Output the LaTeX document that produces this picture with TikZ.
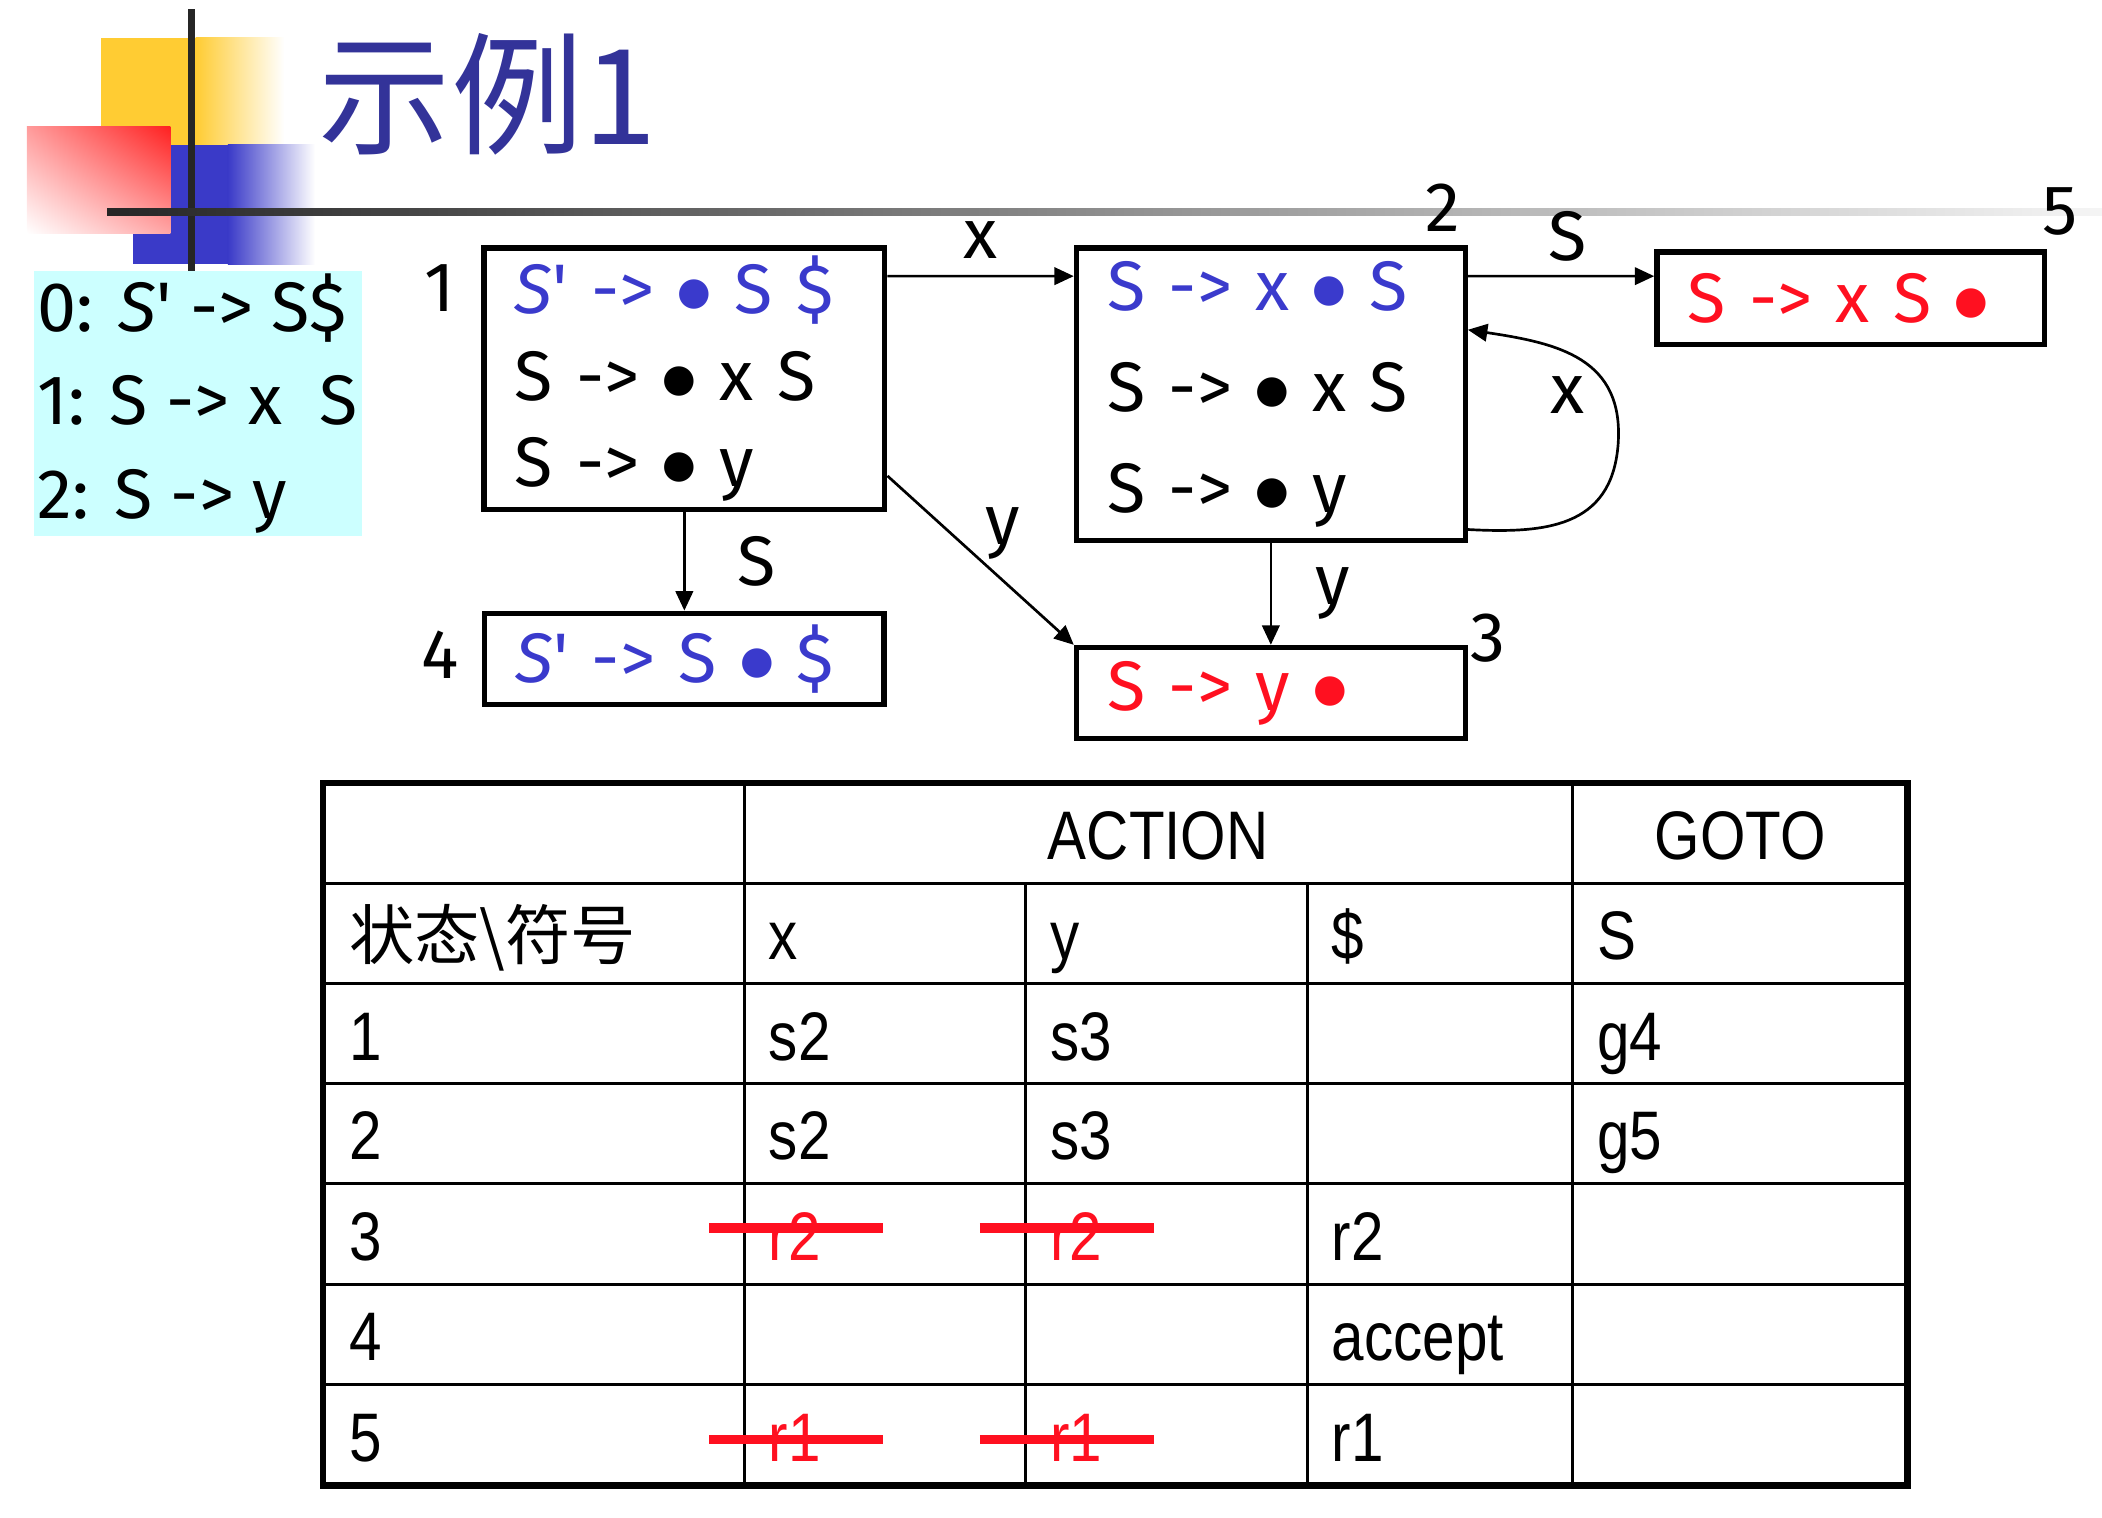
\documentclass[tikz,border=0pt]{standalone}
\usepackage{fontspec}
\usetikzlibrary{arrows.meta,calc,shadings}
\setmainfont[FakeStretch=0.85]{Liberation Sans}
\newfontfamily\comic{Fira Sans}
\newfontfamily\symf{DejaVu Sans}
\newfontfamily\cjk{Noto Sans CJK SC}
\newcommand\idot{\raisebox{2.6pt}{\symf\fontsize{11.5}{11.5}\selectfont ●}}
\definecolor{ttlblue}{HTML}{333399}
\definecolor{itblue}{HTML}{3A3ACC}
\definecolor{itred}{HTML}{FF1020}
\definecolor{gramcyan}{HTML}{CCFFFF}
\definecolor{decoyel}{HTML}{FFCC33}
\definecolor{decoblue}{HTML}{3A3AC8}
\definecolor{decored}{HTML}{FF2020}
\tikzset{
  stbox/.style={rectangle,draw=black,line width=1.6pt,inner xsep=9.2pt,inner ysep=0pt,align=left,
    font=\comic\fontsize{20.9}{25.8}\selectfont},
  numlab/.style={font=\comic\fontsize{20.9}{24}\selectfont,inner sep=0pt},
  elab/.style={font=\comic\fontsize{20.9}{24}\selectfont,inner sep=0pt},
  ar/.style={-{Triangle[length=5.8pt,width=5.2pt]},line width=0.8pt},
  cell/.style={anchor=base west,inner sep=0pt,font=\fontsize{20.5}{24}\selectfont},
  grid/.style={line width=0.9pt},
  strike/.style={draw=itred,line width=2.8pt},
}

\begin{document}
\begin{tikzpicture}[x=0.4pt,y=-0.4pt]
\useasboundingbox (0,0) rectangle (1568,1132);
% ---- title bar ----
\fill[decoyel] (75,28) rectangle (146,108);
\shade[left color=decoyel,right color=white] (146,28) rectangle (212,108);
\fill[decoblue] (99,108) rectangle (170,197);
\shade[left color=decoblue,right color=white] (170,108) rectangle (235,197);
\shade[upper right=decored,upper left=decored!45,lower right=decored!40,lower left=white] (20,94) rectangle (127,174);
\draw[line width=2.2pt,black!85] (143,7) -- (143,202);
\shade[left color=black!85,right color=black!4] (80,155.5) rectangle (1568,161);
\node[font=\cjk\fontsize{39.5}{39.5}\selectfont,text=ttlblue,inner sep=0pt] (ttl) at (364,70) {示例1};

% ---- grammar ----
\node[fill=gramcyan,minimum width=98pt,minimum height=78.4pt,inner sep=0.8pt,align=left,
  font=\comic\fontsize{20.9}{27.8}\selectfont] (gram) at (147.5,301)
  {0: {\itshape S}' -> S\$\\1: S -> x~~S\\2: S -> y};

% ---- item sets ----
\node[stbox,text width=101.2pt,minimum height=78pt] (b1) at (510.5,282.5)
  {\textcolor{itblue}{{\itshape S}' -> \idot{} S \$}\\S -> \idot{} x S\\S -> \idot{} y};
\node[stbox,text width=97.6pt,minimum height=87.2pt,font=\comic\fontsize{20.9}{30.2}\selectfont] (b2) at (948,294)
  {\textcolor{itblue}{S -> x \idot{} S}\\S -> \idot{} x S\\S -> \idot{} y};
\node[stbox,text width=97.2pt,minimum height=27.6pt,text=itred] (b5) at (1380.5,222.5) {S -> x S \idot};
\node[stbox,text width=100.8pt,minimum height=27.2pt,text=itblue] (b4) at (510.5,491.5) {{\itshape S}' -> S \idot{} \$};
\node[stbox,text width=97.6pt,minimum height=27.2pt,text=itred] (b3) at (948,517) {S -> y \idot};

\node[numlab] (n1) at ($(b1.north west)+(-31,32)$) {1};
\node[numlab] (n2) at ($(b2.north east)+(-19,-28)$) {2};
\node[numlab] (n3) at ($(b3.north east)+(15,-5)$) {3};
\node[numlab] (n4) at ($(b4.west)+(-31,-3)$) {4};
\node[numlab] (n5) at ($(b5.north east)+(10,-28)$) {5};

% ---- transitions ----
\draw[ar] ($(b1.north east)+(0,23)$) -- ($(b2.north west)+(0,23)$) node[elab,midway,above=5pt] (l12) {x};
\draw[ar] ($(b2.north east)+(0,23)$) -- ($(b5.north west)+(0,20)$) node[elab,midway,above=4pt,xshift=2pt] (l25) {S};
\draw[ar] ($(b2.south east)+(0,-10)$) .. controls +(57,3) and +(-5,62) .. ++(112,-63)
  node[elab,xshift=-15.2pt,yshift=14.8pt] (l22) {x}
  .. controls +(5,-65) and +(67,10) .. ($(b2.north east)+(0,63)$);
\draw[ar] (b1) -- (b4) node[elab,midway,right=15.5pt] (l14) {S};
\draw[ar] ($(b1.south east)+(0,-27)$) -- (b3.north west) node[elab,midway,xshift=6.6pt,yshift=8pt] (l13) {y};
\draw[ar] (b2) -- (b3) node[elab,midway,right=13pt] (l23) {y};

% ---- parse table ----
\foreach \y in {659,734,808,883,958,1033} \draw[grid] (241,\y) -- (1423,\y);
\foreach \x in {765,975} \draw[grid] (\x,659) -- (\x,1108);
\foreach \x in {555,1173} \draw[grid] (\x,584) -- (\x,1108);
\draw[line width=2pt] (241,584) rectangle (1423,1108);

\node[cell,anchor=base] (hact) at (864,641) {ACTION};
\node[cell,anchor=base] (hgoto) at (1298,641) {GOTO};
\node[cell,font=\cjk\fontsize{19.5}{24}\selectfont] (hst) at (260,716) {状态\textbackslash 符号};
\node[cell] (hx) at (573,716) {x};
\node[cell] (hy) at (783,716) {y};
\node[cell] (hd) at (993,716) {\$};
\node[cell] (hs) at (1191,716) {S};

\node[cell] (t1) at (260,791) {1};
\node[cell] (t1x) at (573,791) {s2};
\node[cell] (t1y) at (783,791) {s3};
\node[cell] (t1s) at (1191,791) {g4};

\node[cell] (t2) at (260,865) {2};
\node[cell] (t2x) at (573,865) {s2};
\node[cell] (t2y) at (783,865) {s3};
\node[cell] (t2s) at (1191,865) {g5};

\node[cell] (t3) at (260,940) {3};
\node[cell,text=itred] (t3x) at (573,940) {r2};
\node[cell,text=itred] (t3y) at (783,940) {r2};
\node[cell] (t3d) at (993,940) {r2};
\draw[strike] ($(t3x.base west)+(-44,-24)$) -- ++(130,0);
\draw[strike] ($(t3y.base west)+(-52,-24)$) -- ++(130,0);

\node[cell] (t4) at (260,1015) {4};
\node[cell] (t4d) at (993,1015) {accept};

\node[cell] (t5) at (260,1090) {5};
\node[cell,text=itred] (t5x) at (573,1090) {r1};
\node[cell,text=itred] (t5y) at (783,1090) {r1};
\node[cell] (t5d) at (993,1090) {r1};
\draw[strike] ($(t5x.base west)+(-44,-16)$) -- ++(130,0);
\draw[strike] ($(t5y.base west)+(-52,-16)$) -- ++(130,0);
\end{tikzpicture}
\end{document}
